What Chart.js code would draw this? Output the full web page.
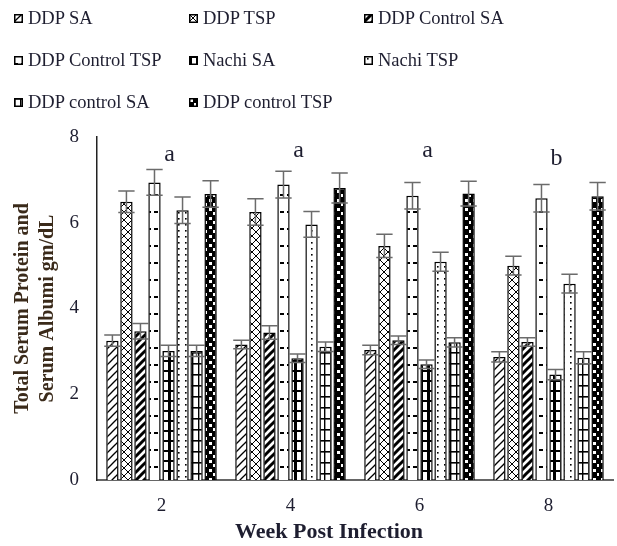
<!DOCTYPE html>
<html>
<head>
<meta charset="utf-8">
<script src="https://cdn.jsdelivr.net/npm/chart.js@4.4.0/dist/chart.umd.min.js"></script>
<style>
  html, body { margin: 0; padding: 0; background: #fff; }
  #wrap { position: relative; width: 617px; height: 546px; }
  #chart { position: absolute; left: 0; top: 0; }
  .leg { position: absolute; font-family: 'Liberation Serif', 'Times New Roman', serif; font-size: 18.5px; color: #1e1e30; white-space: nowrap; line-height: 20px; }
  .leg canvas { position: absolute; left: -14px; top: 6px; }
</style>
</head>
<body>
<div id="wrap">
  <canvas id="chart" width="617" height="546"></canvas>
  <div id="legend"></div>
</div>
<script>
// categories
const weeks = ['2', '4', '6', '8'];
const seriesNames = ['DDP SA', 'DDP TSP', 'DDP Control SA', 'DDP Control TSP',
                     'Nachi SA', 'Nachi TSP', 'DDP control SA', 'DDP control TSP'];

// means (gm/dL)
const ddpSA          = [3.25, 3.16, 3.03, 2.87];
const ddpTSP         = [6.49, 6.25, 5.46, 5.00];
const ddpControlSA   = [3.47, 3.44, 3.26, 3.22];
const ddpControlTSP  = [6.94, 6.89, 6.63, 6.57];
const nachiSA        = [3.01, 2.84, 2.70, 2.46];
const nachiTSP       = [6.29, 5.96, 5.09, 4.58];
const ddpControlSA2  = [3.01, 3.11, 3.21, 2.85];
const ddpControlTSP2 = [6.67, 6.81, 6.68, 6.62];

// error bar half-lengths
const errDdpSA          = [0.13, 0.10, 0.11, 0.12];
const errDdpTSP         = [0.25, 0.31, 0.27, 0.22];
const errDdpControlSA   = [0.18, 0.16, 0.10, 0.10];
const errDdpControlTSP  = [0.30, 0.31, 0.31, 0.32];
const errNachiSA        = [0.13, 0.10, 0.10, 0.12];
const errNachiTSP       = [0.31, 0.30, 0.22, 0.22];
const errDdpControlSA2  = [0.13, 0.11, 0.11, 0.14];
const errDdpControlTSP2 = [0.31, 0.35, 0.29, 0.32];

// significance letters above each week
const sigLetters = ['a', 'a', 'a', 'b'];
const sigLevel   = [7.58, 7.69, 7.69, 7.50];

const FONT = "'Liberation Serif', 'Times New Roman', serif";
const TEXT = '#1e1e30';

// little tiles for the black & white fills
function tile(w, h, draw) {
    const c = document.createElement('canvas');
    c.width = w; c.height = h;
    const g = c.getContext('2d');
    draw(g, w, h);
    return c;
}

function line(g, x1, y1, x2, y2, lw) {
    g.lineWidth = lw;
    g.beginPath(); g.moveTo(x1, y1); g.lineTo(x2, y2); g.stroke();
}

const tiles = [
    // DDP SA: thin wavy diagonals
    tile(8, 8, (g, w, h) => {
        g.fillStyle = '#fff'; g.fillRect(0, 0, w, h); g.strokeStyle = '#000';
        line(g, 0, 8, 8, 0, 1.3); line(g, -2, 2, 2, -2, 1.3); line(g, 6, 10, 10, 6, 1.3);
    }),
    // DDP TSP: lattice
    tile(8, 8, (g, w, h) => {
        g.fillStyle = '#fff'; g.fillRect(0, 0, w, h); g.strokeStyle = '#000';
        line(g, 0, 0, 8, 8, 1); line(g, 0, 8, 8, 0, 1);
    }),
    // DDP Control SA: bold diagonals
    tile(8, 8, (g, w, h) => {
        g.fillStyle = '#fff'; g.fillRect(0, 0, w, h); g.strokeStyle = '#000';
        line(g, -1, 9, 9, -1, 3); line(g, -2, 2, 2, -2, 3); line(g, 6, 10, 10, 6, 3);
    }),
    // DDP Control TSP: white with short ticks
    tile(7, 17, (g, w, h) => {
        g.fillStyle = '#fff'; g.fillRect(0, 0, w, h); g.strokeStyle = '#000';
        line(g, 0, 8, 4, 8, 2);
    }),
    // Nachi SA: dark grid
    tile(7, 10, (g, w, h) => {
        g.fillStyle = '#fff'; g.fillRect(0, 0, w, h); g.fillStyle = '#000';
        g.fillRect(0, 0, 3, h); g.fillRect(0, 0, w, 2);
    }),
    // Nachi TSP: dotted
    tile(7, 6, (g, w, h) => {
        g.fillStyle = '#fff'; g.fillRect(0, 0, w, h); g.fillStyle = '#000';
        g.fillRect(3, 2, 1.6, 1.6);
    }),
    // DDP control SA: ladder
    tile(6, 11, (g, w, h) => {
        g.fillStyle = '#fff'; g.fillRect(0, 0, w, h); g.fillStyle = '#000';
        g.fillRect(0, 0, w, 1.6); g.fillRect(0, 0, 1.4, h);
    }),
    // DDP control TSP: black with white blobs
    tile(8, 9, (g, w, h) => {
        g.fillStyle = '#000'; g.fillRect(0, 0, w, h); g.fillStyle = '#fff';
        g.fillRect(1, 1, 3, 3); g.fillRect(5, 5, 2, 3);
    })
];

const chartCanvas = document.getElementById('chart');
const ctx = chartCanvas.getContext('2d');
const patterns = tiles.map(t => ctx.createPattern(t, 'repeat'));

const seriesValues = [ddpSA, ddpTSP, ddpControlSA, ddpControlTSP, nachiSA, nachiTSP, ddpControlSA2, ddpControlTSP2];
const seriesErrors = [errDdpSA, errDdpTSP, errDdpControlSA, errDdpControlTSP, errNachiSA, errNachiTSP, errDdpControlSA2, errDdpControlTSP2];

const datasets = seriesNames.map((name, i) => ({
    label: name,
    data: seriesValues[i],
    errors: seriesErrors[i],
    backgroundColor: patterns[i],
    borderColor: '#000',
    borderWidth: 1.5,
    categoryPercentage: 0.87,
    barPercentage: 0.88
}));

// error bars drawn over the bars
const errorBars = {
    id: 'errorBars',
    afterDatasetsDraw(chart) {
        const c = chart.ctx, y = chart.scales.y;
        chart.data.datasets.forEach((ds, i) => {
            chart.getDatasetMeta(i).data.forEach((bar, j) => {
                const v = ds.data[j], e = ds.errors[j];
                const top = y.getPixelForValue(v + e), bot = y.getPixelForValue(v - e);
                const half = bar.width / 2 + 2;
                c.save();
                c.strokeStyle = '#6b6b6b';
                c.lineWidth = 1.5;
                c.beginPath();
                c.moveTo(bar.x, top); c.lineTo(bar.x, bot);
                c.moveTo(bar.x - half, top); c.lineTo(bar.x + half, top);
                c.moveTo(bar.x - half, bot); c.lineTo(bar.x + half, bot);
                c.stroke();
                c.restore();
            });
        });
    }
};

// letters + x axis title
const annotations = {
    id: 'annotations',
    afterDraw(chart) {
        const c = chart.ctx, x = chart.scales.x, y = chart.scales.y;
        c.save();
        c.fillStyle = TEXT;
        c.textAlign = 'center';
        c.textBaseline = 'middle';
        c.font = '24px ' + FONT;
        sigLetters.forEach((s, i) => {
            c.fillText(s, x.getPixelForValue(i) + 8, y.getPixelForValue(sigLevel[i]));
        });
        c.font = 'bold 22px ' + FONT;
        c.fillText('Week Post Infection', 329, 532);
        c.restore();
    }
};

new Chart(ctx, {
    type: 'bar',
    data: { labels: weeks, datasets: datasets },
    options: {
        responsive: false,
        animation: false,
        layout: { padding: { top: 137, right: 4, left: 0, bottom: 0 } },
        plugins: { legend: { display: false }, tooltip: { enabled: false } },
        scales: {
            x: {
                grid: { display: false, drawTicks: false },
                border: { color: '#666', width: 2 },
                ticks: { padding: 15, color: TEXT, font: { family: FONT, size: 19 } },
                afterFit(s) { s.height = 66; }
            },
            y: {
                min: 0,
                max: 8,
                grid: { display: false, drawTicks: false },
                border: { color: '#222', width: 1.5 },
                ticks: { stepSize: 2, padding: 18, color: TEXT, font: { family: FONT, size: 19 } },
                title: {
                    display: true,
                    text: ['Total Serum Protein and', 'Serum Albumi gm/dL'],
                    color: '#3a2a1a',
                    font: { family: FONT, size: 20, weight: 'bold', lineHeight: 1.25 },
                    padding: { top: 10, bottom: 0 }
                },
                afterFit(s) { s.width = 97; }
            }
        }
    },
    plugins: [errorBars, annotations]
});

// html legend, 3 columns
const legendCols = [28, 203, 378];
const legendRows = [18, 60, 102];
const legendEl = document.getElementById('legend');
seriesNames.forEach((name, i) => {
    const item = document.createElement('div');
    item.className = 'leg';
    item.style.left = legendCols[i % 3] + 'px';
    item.style.top = (legendRows[Math.floor(i / 3)] - 10) + 'px';
    const box = document.createElement('canvas');
    box.width = 9; box.height = 9;
    const g = box.getContext('2d');
    g.fillStyle = g.createPattern(tiles[i], 'repeat');
    g.fillRect(0, 0, 9, 9);
    g.strokeStyle = '#000'; g.lineWidth = 1.5;
    g.strokeRect(0.75, 0.75, 7.5, 7.5);
    item.appendChild(box);
    item.appendChild(document.createTextNode(name));
    legendEl.appendChild(item);
});
</script>
</body>
</html>
